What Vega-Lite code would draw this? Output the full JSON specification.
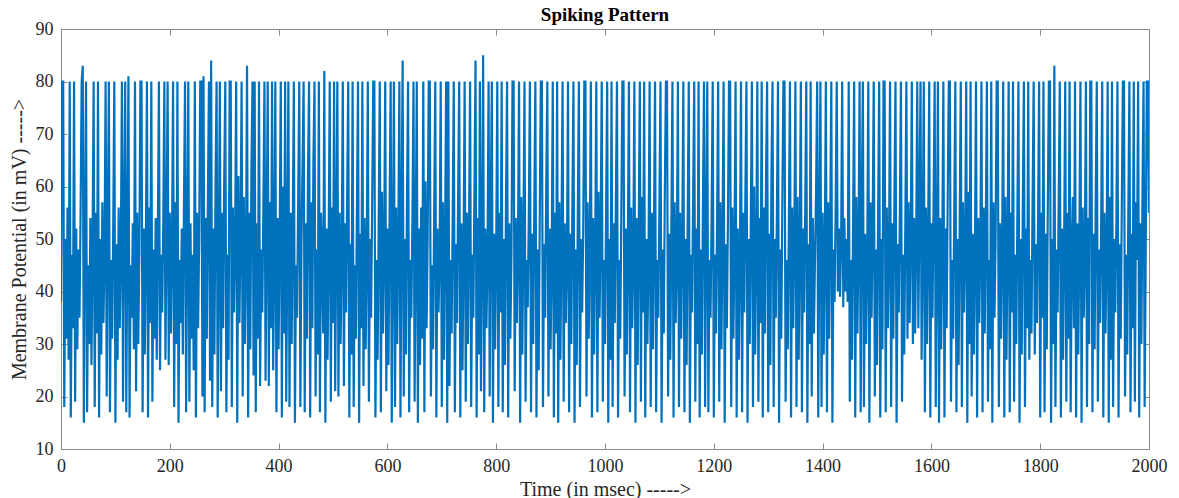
{
"$schema":"https://vega.github.io/schema/vega-lite/v6.json",
"width":1088,"height":420,"autosize":"none",
"padding":{"left":61,"top":29,"right":30,"bottom":49},
"title":{"text":"Spiking Pattern","font":"Liberation Serif","fontSize":19,"fontWeight":"bold","color":"#000000","offset":-5},
"config":{"view":{"stroke":null},"axis":{"domainColor":"#8a8a8a","tickColor":"#8a8a8a","labelColor":"#262626","titleColor":"#262626","labelFont":"Liberation Serif","titleFont":"Liberation Serif","labelFontSize":18,"titleFontSize":20,"titleFontWeight":"normal","grid":false,"tickSize":-6,"domainWidth":1,"tickWidth":1}},
"datasets":{
"frame":[{"t":0,"v":10},{"t":2000,"v":90}],
"trace":[
{"t":0,"v":38},{"t":2,"v":80},{"t":4,"v":80},{"t":6,"v":18},{"t":8,"v":50},{"t":10,"v":31},{"t":12,"v":56},{"t":14,"v":27},{"t":16,"v":80},{"t":18,"v":16},
{"t":20,"v":47},{"t":22,"v":33},{"t":24,"v":80},{"t":26,"v":19},{"t":28,"v":52},{"t":30,"v":29},{"t":32,"v":48},{"t":34,"v":35},{"t":36,"v":55},{"t":38,"v":80},
{"t":40,"v":83},{"t":42,"v":15},{"t":44,"v":51},{"t":46,"v":80},{"t":48,"v":17},{"t":50,"v":45},{"t":52,"v":30},{"t":54,"v":54},{"t":56,"v":26},{"t":58,"v":49},
{"t":60,"v":80},{"t":62,"v":18},{"t":64,"v":55},{"t":66,"v":32},{"t":68,"v":80},{"t":70,"v":16},{"t":72,"v":50},{"t":74,"v":28},{"t":76,"v":57},{"t":78,"v":34},
{"t":80,"v":47},{"t":82,"v":80},{"t":84,"v":20},{"t":86,"v":53},{"t":88,"v":80},{"t":90,"v":17},{"t":92,"v":46},{"t":94,"v":31},{"t":96,"v":52},{"t":98,"v":80},
{"t":100,"v":15},{"t":102,"v":49},{"t":104,"v":27},{"t":106,"v":56},{"t":108,"v":33},{"t":110,"v":48},{"t":112,"v":80},{"t":114,"v":19},{"t":116,"v":54},{"t":118,"v":80},
{"t":120,"v":17},{"t":122,"v":51},{"t":124,"v":81},{"t":126,"v":16},{"t":128,"v":45},{"t":130,"v":35},{"t":132,"v":53},{"t":134,"v":29},{"t":136,"v":80},{"t":138,"v":21},
{"t":140,"v":55},{"t":142,"v":30},{"t":144,"v":47},{"t":146,"v":80},{"t":148,"v":80},{"t":150,"v":17},{"t":152,"v":52},{"t":154,"v":28},{"t":156,"v":49},{"t":158,"v":80},
{"t":160,"v":16},{"t":162,"v":56},{"t":164,"v":34},{"t":166,"v":80},{"t":168,"v":19},{"t":170,"v":48},{"t":172,"v":31},{"t":174,"v":54},{"t":176,"v":27},{"t":178,"v":51},
{"t":180,"v":80},{"t":182,"v":25},{"t":184,"v":47},{"t":186,"v":36},{"t":188,"v":53},{"t":190,"v":80},{"t":192,"v":27},{"t":194,"v":50},{"t":196,"v":80},{"t":198,"v":26},
{"t":200,"v":55},{"t":202,"v":32},{"t":204,"v":48},{"t":206,"v":80},{"t":208,"v":18},{"t":210,"v":57},{"t":212,"v":30},{"t":214,"v":80},{"t":216,"v":15},{"t":218,"v":46},
{"t":220,"v":34},{"t":222,"v":52},{"t":224,"v":28},{"t":226,"v":56},{"t":228,"v":80},{"t":230,"v":17},{"t":232,"v":49},{"t":234,"v":80},{"t":236,"v":19},{"t":238,"v":53},
{"t":240,"v":31},{"t":242,"v":47},{"t":244,"v":25},{"t":246,"v":80},{"t":248,"v":16},{"t":250,"v":55},{"t":252,"v":33},{"t":254,"v":50},{"t":256,"v":80},{"t":258,"v":80},
{"t":260,"v":20},{"t":262,"v":81},{"t":264,"v":17},{"t":266,"v":54},{"t":268,"v":31},{"t":270,"v":58},{"t":272,"v":80},{"t":274,"v":23},{"t":276,"v":84},{"t":278,"v":18},
{"t":280,"v":52},{"t":282,"v":28},{"t":284,"v":60},{"t":286,"v":80},{"t":288,"v":16},{"t":290,"v":45},{"t":292,"v":80},{"t":294,"v":21},{"t":296,"v":55},{"t":298,"v":33},
{"t":300,"v":61},{"t":302,"v":80},{"t":304,"v":17},{"t":306,"v":47},{"t":308,"v":27},{"t":310,"v":80},{"t":312,"v":80},{"t":314,"v":18},{"t":316,"v":56},{"t":318,"v":36},
{"t":320,"v":49},{"t":322,"v":80},{"t":324,"v":15},{"t":326,"v":62},{"t":328,"v":34},{"t":330,"v":51},{"t":332,"v":80},{"t":334,"v":20},{"t":336,"v":58},{"t":338,"v":30},
{"t":340,"v":46},{"t":342,"v":83},{"t":344,"v":16},{"t":346,"v":55},{"t":348,"v":29},{"t":350,"v":63},{"t":352,"v":80},{"t":354,"v":24},{"t":356,"v":80},{"t":358,"v":17},
{"t":360,"v":53},{"t":362,"v":31},{"t":364,"v":80},{"t":366,"v":22},{"t":368,"v":48},{"t":370,"v":36},{"t":372,"v":56},{"t":374,"v":80},{"t":376,"v":23},{"t":378,"v":50},
{"t":380,"v":80},{"t":382,"v":22},{"t":384,"v":57},{"t":386,"v":33},{"t":388,"v":80},{"t":390,"v":25},{"t":392,"v":46},{"t":394,"v":80},{"t":396,"v":17},{"t":398,"v":54},
{"t":400,"v":29},{"t":402,"v":51},{"t":404,"v":80},{"t":406,"v":16},{"t":408,"v":60},{"t":410,"v":32},{"t":412,"v":80},{"t":414,"v":19},{"t":416,"v":47},{"t":418,"v":80},
{"t":420,"v":18},{"t":422,"v":55},{"t":424,"v":30},{"t":426,"v":52},{"t":428,"v":80},{"t":430,"v":15},{"t":432,"v":45},{"t":434,"v":35},{"t":436,"v":58},{"t":438,"v":80},
{"t":440,"v":18},{"t":442,"v":49},{"t":444,"v":64},{"t":446,"v":80},{"t":448,"v":17},{"t":450,"v":53},{"t":452,"v":31},{"t":454,"v":62},{"t":456,"v":80},{"t":458,"v":16},
{"t":460,"v":57},{"t":462,"v":33},{"t":464,"v":65},{"t":466,"v":80},{"t":468,"v":20},{"t":470,"v":48},{"t":472,"v":28},{"t":474,"v":80},{"t":476,"v":17},{"t":478,"v":55},
{"t":480,"v":46},{"t":482,"v":32},{"t":484,"v":82},{"t":486,"v":15},{"t":488,"v":52},{"t":490,"v":27},{"t":492,"v":49},{"t":494,"v":80},{"t":496,"v":19},{"t":498,"v":56},
{"t":500,"v":34},{"t":502,"v":80},{"t":504,"v":21},{"t":506,"v":50},{"t":508,"v":80},{"t":510,"v":20},{"t":512,"v":55},{"t":514,"v":30},{"t":516,"v":47},{"t":518,"v":80},
{"t":520,"v":22},{"t":522,"v":53},{"t":524,"v":36},{"t":526,"v":58},{"t":528,"v":80},{"t":530,"v":16},{"t":532,"v":49},{"t":534,"v":28},{"t":536,"v":80},{"t":538,"v":18},
{"t":540,"v":45},{"t":542,"v":31},{"t":544,"v":56},{"t":546,"v":80},{"t":548,"v":15},{"t":550,"v":51},{"t":552,"v":33},{"t":554,"v":80},{"t":556,"v":22},{"t":558,"v":54},
{"t":560,"v":29},{"t":562,"v":47},{"t":564,"v":80},{"t":566,"v":19},{"t":568,"v":50},{"t":570,"v":35},{"t":572,"v":57},{"t":574,"v":80},{"t":576,"v":80},{"t":578,"v":16},
{"t":580,"v":46},{"t":582,"v":27},{"t":584,"v":53},{"t":586,"v":80},{"t":588,"v":17},{"t":590,"v":59},{"t":592,"v":32},{"t":594,"v":48},{"t":596,"v":80},{"t":598,"v":21},
{"t":600,"v":52},{"t":602,"v":26},{"t":604,"v":55},{"t":606,"v":80},{"t":608,"v":15},{"t":610,"v":47},{"t":612,"v":80},{"t":614,"v":18},{"t":616,"v":56},{"t":618,"v":30},
{"t":620,"v":49},{"t":622,"v":80},{"t":624,"v":16},{"t":626,"v":53},{"t":628,"v":84},{"t":630,"v":20},{"t":632,"v":50},{"t":634,"v":28},{"t":636,"v":57},{"t":638,"v":80},
{"t":640,"v":17},{"t":642,"v":46},{"t":644,"v":35},{"t":646,"v":54},{"t":648,"v":80},{"t":650,"v":19},{"t":652,"v":49},{"t":654,"v":80},{"t":656,"v":15},{"t":658,"v":52},
{"t":660,"v":26},{"t":662,"v":56},{"t":664,"v":31},{"t":666,"v":80},{"t":668,"v":17},{"t":670,"v":61},{"t":672,"v":33},{"t":674,"v":50},{"t":676,"v":80},{"t":678,"v":80},
{"t":680,"v":20},{"t":682,"v":45},{"t":684,"v":29},{"t":686,"v":55},{"t":688,"v":80},{"t":690,"v":16},{"t":692,"v":52},{"t":694,"v":36},{"t":696,"v":47},{"t":698,"v":80},
{"t":700,"v":18},{"t":702,"v":57},{"t":704,"v":27},{"t":706,"v":50},{"t":708,"v":80},{"t":710,"v":15},{"t":712,"v":80},{"t":714,"v":22},{"t":716,"v":46},{"t":718,"v":32},
{"t":720,"v":54},{"t":722,"v":80},{"t":724,"v":17},{"t":726,"v":49},{"t":728,"v":34},{"t":730,"v":58},{"t":732,"v":80},{"t":734,"v":16},{"t":736,"v":53},{"t":738,"v":25},
{"t":740,"v":48},{"t":742,"v":80},{"t":744,"v":19},{"t":746,"v":55},{"t":748,"v":30},{"t":750,"v":51},{"t":752,"v":80},{"t":754,"v":18},{"t":756,"v":47},{"t":758,"v":35},
{"t":760,"v":59},{"t":762,"v":84},{"t":764,"v":16},{"t":766,"v":54},{"t":768,"v":28},{"t":770,"v":80},{"t":772,"v":21},{"t":774,"v":49},{"t":776,"v":85},{"t":778,"v":17},
{"t":780,"v":52},{"t":782,"v":33},{"t":784,"v":46},{"t":786,"v":80},{"t":788,"v":20},{"t":790,"v":56},{"t":792,"v":80},{"t":794,"v":15},{"t":796,"v":51},{"t":798,"v":29},
{"t":800,"v":48},{"t":802,"v":80},{"t":804,"v":18},{"t":806,"v":55},{"t":808,"v":36},{"t":810,"v":80},{"t":812,"v":17},{"t":814,"v":50},{"t":816,"v":26},{"t":818,"v":57},
{"t":820,"v":80},{"t":822,"v":16},{"t":824,"v":53},{"t":826,"v":31},{"t":828,"v":47},{"t":830,"v":80},{"t":832,"v":80},{"t":834,"v":21},{"t":836,"v":54},{"t":838,"v":34},
{"t":840,"v":49},{"t":842,"v":80},{"t":844,"v":15},{"t":846,"v":58},{"t":848,"v":28},{"t":850,"v":50},{"t":852,"v":80},{"t":854,"v":19},{"t":856,"v":46},{"t":858,"v":37},
{"t":860,"v":55},{"t":862,"v":80},{"t":864,"v":17},{"t":866,"v":51},{"t":868,"v":30},{"t":870,"v":56},{"t":872,"v":80},{"t":874,"v":16},{"t":876,"v":48},{"t":878,"v":25},
{"t":880,"v":53},{"t":882,"v":80},{"t":884,"v":80},{"t":886,"v":18},{"t":888,"v":49},{"t":890,"v":35},{"t":892,"v":60},{"t":894,"v":80},{"t":896,"v":20},{"t":898,"v":52},
{"t":900,"v":29},{"t":902,"v":47},{"t":904,"v":80},{"t":906,"v":16},{"t":908,"v":55},{"t":910,"v":32},{"t":912,"v":80},{"t":914,"v":15},{"t":916,"v":57},{"t":918,"v":27},
{"t":920,"v":50},{"t":922,"v":80},{"t":924,"v":19},{"t":926,"v":53},{"t":928,"v":34},{"t":930,"v":46},{"t":932,"v":80},{"t":934,"v":17},{"t":936,"v":51},{"t":938,"v":30},
{"t":940,"v":56},{"t":942,"v":80},{"t":944,"v":15},{"t":946,"v":48},{"t":948,"v":26},{"t":950,"v":55},{"t":952,"v":80},{"t":954,"v":18},{"t":956,"v":50},{"t":958,"v":36},
{"t":960,"v":52},{"t":962,"v":80},{"t":964,"v":80},{"t":966,"v":20},{"t":968,"v":57},{"t":970,"v":31},{"t":972,"v":47},{"t":974,"v":80},{"t":976,"v":16},{"t":978,"v":54},
{"t":980,"v":28},{"t":982,"v":49},{"t":984,"v":80},{"t":986,"v":17},{"t":988,"v":59},{"t":990,"v":35},{"t":992,"v":52},{"t":994,"v":80},{"t":996,"v":19},{"t":998,"v":46},
{"t":1000,"v":30},{"t":1002,"v":55},{"t":1004,"v":80},{"t":1006,"v":15},{"t":1008,"v":50},{"t":1010,"v":27},{"t":1012,"v":80},{"t":1014,"v":18},{"t":1016,"v":53},{"t":1018,"v":34},
{"t":1020,"v":57},{"t":1022,"v":80},{"t":1024,"v":16},{"t":1026,"v":46},{"t":1028,"v":31},{"t":1030,"v":55},{"t":1032,"v":80},{"t":1034,"v":80},{"t":1036,"v":20},{"t":1038,"v":52},
{"t":1040,"v":28},{"t":1042,"v":49},{"t":1044,"v":80},{"t":1046,"v":17},{"t":1048,"v":56},{"t":1050,"v":33},{"t":1052,"v":47},{"t":1054,"v":80},{"t":1056,"v":15},{"t":1058,"v":54},
{"t":1060,"v":26},{"t":1062,"v":51},{"t":1064,"v":80},{"t":1066,"v":19},{"t":1068,"v":58},{"t":1070,"v":36},{"t":1072,"v":80},{"t":1074,"v":16},{"t":1076,"v":50},{"t":1078,"v":30},
{"t":1080,"v":47},{"t":1082,"v":80},{"t":1084,"v":18},{"t":1086,"v":55},{"t":1088,"v":29},{"t":1090,"v":52},{"t":1092,"v":80},{"t":1094,"v":17},{"t":1096,"v":46},{"t":1098,"v":35},
{"t":1100,"v":56},{"t":1102,"v":80},{"t":1104,"v":15},{"t":1106,"v":48},{"t":1108,"v":32},{"t":1110,"v":59},{"t":1112,"v":80},{"t":1114,"v":80},{"t":1116,"v":20},{"t":1118,"v":51},
{"t":1120,"v":27},{"t":1122,"v":53},{"t":1124,"v":80},{"t":1126,"v":16},{"t":1128,"v":57},{"t":1130,"v":34},{"t":1132,"v":46},{"t":1134,"v":80},{"t":1136,"v":18},{"t":1138,"v":55},
{"t":1140,"v":31},{"t":1142,"v":49},{"t":1144,"v":80},{"t":1146,"v":17},{"t":1148,"v":50},{"t":1150,"v":26},{"t":1152,"v":54},{"t":1154,"v":80},{"t":1156,"v":15},{"t":1158,"v":47},
{"t":1160,"v":36},{"t":1162,"v":58},{"t":1164,"v":80},{"t":1166,"v":19},{"t":1168,"v":52},{"t":1170,"v":30},{"t":1172,"v":80},{"t":1174,"v":16},{"t":1176,"v":48},{"t":1178,"v":28},
{"t":1180,"v":56},{"t":1182,"v":80},{"t":1184,"v":18},{"t":1186,"v":51},{"t":1188,"v":80},{"t":1190,"v":17},{"t":1192,"v":46},{"t":1194,"v":35},{"t":1196,"v":55},{"t":1198,"v":80},
{"t":1200,"v":16},{"t":1202,"v":47},{"t":1204,"v":32},{"t":1206,"v":53},{"t":1208,"v":80},{"t":1210,"v":19},{"t":1212,"v":57},{"t":1214,"v":29},{"t":1216,"v":50},{"t":1218,"v":80},
{"t":1220,"v":15},{"t":1222,"v":49},{"t":1224,"v":33},{"t":1226,"v":54},{"t":1228,"v":80},{"t":1230,"v":80},{"t":1232,"v":18},{"t":1234,"v":56},{"t":1236,"v":31},{"t":1238,"v":48},
{"t":1240,"v":80},{"t":1242,"v":16},{"t":1244,"v":52},{"t":1246,"v":27},{"t":1248,"v":46},{"t":1250,"v":80},{"t":1252,"v":17},{"t":1254,"v":55},{"t":1256,"v":36},{"t":1258,"v":58},
{"t":1260,"v":80},{"t":1262,"v":15},{"t":1264,"v":50},{"t":1266,"v":30},{"t":1268,"v":53},{"t":1270,"v":80},{"t":1272,"v":18},{"t":1274,"v":60},{"t":1276,"v":28},{"t":1278,"v":47},
{"t":1280,"v":80},{"t":1282,"v":19},{"t":1284,"v":54},{"t":1286,"v":34},{"t":1288,"v":80},{"t":1290,"v":16},{"t":1292,"v":56},{"t":1294,"v":32},{"t":1296,"v":62},{"t":1298,"v":80},
{"t":1300,"v":17},{"t":1302,"v":51},{"t":1304,"v":26},{"t":1306,"v":63},{"t":1308,"v":80},{"t":1310,"v":18},{"t":1312,"v":50},{"t":1314,"v":35},{"t":1316,"v":55},{"t":1318,"v":80},
{"t":1320,"v":15},{"t":1322,"v":48},{"t":1324,"v":31},{"t":1326,"v":57},{"t":1328,"v":80},{"t":1330,"v":80},{"t":1332,"v":19},{"t":1334,"v":46},{"t":1336,"v":29},{"t":1338,"v":53},
{"t":1340,"v":80},{"t":1342,"v":16},{"t":1344,"v":56},{"t":1346,"v":33},{"t":1348,"v":50},{"t":1350,"v":80},{"t":1352,"v":18},{"t":1354,"v":58},{"t":1356,"v":27},{"t":1358,"v":48},
{"t":1360,"v":80},{"t":1362,"v":17},{"t":1364,"v":52},{"t":1366,"v":36},{"t":1368,"v":55},{"t":1370,"v":80},{"t":1372,"v":15},{"t":1374,"v":49},{"t":1376,"v":30},{"t":1378,"v":80},
{"t":1380,"v":20},{"t":1382,"v":54},{"t":1384,"v":32},{"t":1386,"v":46},{"t":1388,"v":59},{"t":1390,"v":80},{"t":1392,"v":16},{"t":1394,"v":51},{"t":1396,"v":80},{"t":1398,"v":18},
{"t":1400,"v":55},{"t":1402,"v":28},{"t":1404,"v":47},{"t":1406,"v":80},{"t":1408,"v":17},{"t":1410,"v":57},{"t":1412,"v":31},{"t":1414,"v":53},{"t":1416,"v":80},{"t":1418,"v":15},
{"t":1420,"v":48},{"t":1422,"v":38},{"t":1424,"v":56},{"t":1426,"v":80},{"t":1428,"v":40},{"t":1430,"v":52},{"t":1432,"v":39},{"t":1434,"v":49},{"t":1436,"v":80},{"t":1438,"v":37},
{"t":1440,"v":54},{"t":1442,"v":40},{"t":1444,"v":50},{"t":1446,"v":38},{"t":1448,"v":80},{"t":1450,"v":19},{"t":1452,"v":46},{"t":1454,"v":27},{"t":1456,"v":53},{"t":1458,"v":80},
{"t":1460,"v":16},{"t":1462,"v":58},{"t":1464,"v":32},{"t":1466,"v":49},{"t":1468,"v":80},{"t":1470,"v":17},{"t":1472,"v":55},{"t":1474,"v":80},{"t":1476,"v":18},{"t":1478,"v":51},
{"t":1480,"v":30},{"t":1482,"v":46},{"t":1484,"v":80},{"t":1486,"v":15},{"t":1488,"v":57},{"t":1490,"v":35},{"t":1492,"v":52},{"t":1494,"v":80},{"t":1496,"v":20},{"t":1498,"v":48},
{"t":1500,"v":26},{"t":1502,"v":54},{"t":1504,"v":80},{"t":1506,"v":16},{"t":1508,"v":50},{"t":1510,"v":29},{"t":1512,"v":80},{"t":1514,"v":80},{"t":1516,"v":17},{"t":1518,"v":56},
{"t":1520,"v":33},{"t":1522,"v":47},{"t":1524,"v":80},{"t":1526,"v":18},{"t":1528,"v":53},{"t":1530,"v":31},{"t":1532,"v":58},{"t":1534,"v":80},{"t":1536,"v":15},{"t":1538,"v":49},
{"t":1540,"v":36},{"t":1542,"v":55},{"t":1544,"v":80},{"t":1546,"v":19},{"t":1548,"v":47},{"t":1550,"v":28},{"t":1552,"v":52},{"t":1554,"v":80},{"t":1556,"v":31},{"t":1558,"v":57},
{"t":1560,"v":34},{"t":1562,"v":50},{"t":1564,"v":80},{"t":1566,"v":30},{"t":1568,"v":54},{"t":1570,"v":32},{"t":1572,"v":49},{"t":1574,"v":80},{"t":1576,"v":33},{"t":1578,"v":55},
{"t":1580,"v":80},{"t":1582,"v":27},{"t":1584,"v":48},{"t":1586,"v":80},{"t":1588,"v":17},{"t":1590,"v":56},{"t":1592,"v":30},{"t":1594,"v":50},{"t":1596,"v":80},{"t":1598,"v":16},
{"t":1600,"v":53},{"t":1602,"v":35},{"t":1604,"v":57},{"t":1606,"v":80},{"t":1608,"v":18},{"t":1610,"v":47},{"t":1612,"v":80},{"t":1614,"v":15},{"t":1616,"v":54},{"t":1618,"v":29},
{"t":1620,"v":49},{"t":1622,"v":80},{"t":1624,"v":16},{"t":1626,"v":52},{"t":1628,"v":33},{"t":1630,"v":58},{"t":1632,"v":80},{"t":1634,"v":80},{"t":1636,"v":19},{"t":1638,"v":46},
{"t":1640,"v":31},{"t":1642,"v":55},{"t":1644,"v":80},{"t":1646,"v":17},{"t":1648,"v":50},{"t":1650,"v":26},{"t":1652,"v":53},{"t":1654,"v":80},{"t":1656,"v":18},{"t":1658,"v":57},
{"t":1660,"v":36},{"t":1662,"v":48},{"t":1664,"v":80},{"t":1666,"v":15},{"t":1668,"v":59},{"t":1670,"v":30},{"t":1672,"v":80},{"t":1674,"v":20},{"t":1676,"v":51},{"t":1678,"v":28},
{"t":1680,"v":47},{"t":1682,"v":80},{"t":1684,"v":16},{"t":1686,"v":54},{"t":1688,"v":34},{"t":1690,"v":49},{"t":1692,"v":80},{"t":1694,"v":17},{"t":1696,"v":56},{"t":1698,"v":32},
{"t":1700,"v":52},{"t":1702,"v":80},{"t":1704,"v":19},{"t":1706,"v":46},{"t":1708,"v":29},{"t":1710,"v":80},{"t":1712,"v":15},{"t":1714,"v":57},{"t":1716,"v":35},{"t":1718,"v":50},
{"t":1720,"v":80},{"t":1722,"v":80},{"t":1724,"v":18},{"t":1726,"v":53},{"t":1728,"v":31},{"t":1730,"v":48},{"t":1732,"v":80},{"t":1734,"v":16},{"t":1736,"v":58},{"t":1738,"v":27},
{"t":1740,"v":49},{"t":1742,"v":80},{"t":1744,"v":17},{"t":1746,"v":55},{"t":1748,"v":36},{"t":1750,"v":80},{"t":1752,"v":19},{"t":1754,"v":47},{"t":1756,"v":30},{"t":1758,"v":54},
{"t":1760,"v":80},{"t":1762,"v":15},{"t":1764,"v":50},{"t":1766,"v":28},{"t":1768,"v":56},{"t":1770,"v":80},{"t":1772,"v":18},{"t":1774,"v":52},{"t":1776,"v":33},{"t":1778,"v":80},
{"t":1780,"v":27},{"t":1782,"v":46},{"t":1784,"v":32},{"t":1786,"v":57},{"t":1788,"v":80},{"t":1790,"v":28},{"t":1792,"v":49},{"t":1794,"v":34},{"t":1796,"v":53},{"t":1798,"v":80},
{"t":1800,"v":16},{"t":1802,"v":55},{"t":1804,"v":35},{"t":1806,"v":80},{"t":1808,"v":17},{"t":1810,"v":51},{"t":1812,"v":29},{"t":1814,"v":56},{"t":1816,"v":80},{"t":1818,"v":80},
{"t":1820,"v":15},{"t":1822,"v":50},{"t":1824,"v":30},{"t":1826,"v":83},{"t":1828,"v":18},{"t":1830,"v":48},{"t":1832,"v":36},{"t":1834,"v":57},{"t":1836,"v":80},{"t":1838,"v":16},
{"t":1840,"v":52},{"t":1842,"v":27},{"t":1844,"v":49},{"t":1846,"v":80},{"t":1848,"v":19},{"t":1850,"v":55},{"t":1852,"v":31},{"t":1854,"v":80},{"t":1856,"v":17},{"t":1858,"v":47},
{"t":1860,"v":58},{"t":1862,"v":33},{"t":1864,"v":80},{"t":1866,"v":16},{"t":1868,"v":53},{"t":1870,"v":28},{"t":1872,"v":50},{"t":1874,"v":80},{"t":1876,"v":15},{"t":1878,"v":56},
{"t":1880,"v":35},{"t":1882,"v":46},{"t":1884,"v":80},{"t":1886,"v":18},{"t":1888,"v":54},{"t":1890,"v":30},{"t":1892,"v":80},{"t":1894,"v":80},{"t":1896,"v":17},{"t":1898,"v":51},
{"t":1900,"v":29},{"t":1902,"v":57},{"t":1904,"v":80},{"t":1906,"v":19},{"t":1908,"v":48},{"t":1910,"v":34},{"t":1912,"v":52},{"t":1914,"v":80},{"t":1916,"v":16},{"t":1918,"v":55},
{"t":1920,"v":32},{"t":1922,"v":47},{"t":1924,"v":80},{"t":1926,"v":15},{"t":1928,"v":58},{"t":1930,"v":27},{"t":1932,"v":80},{"t":1934,"v":18},{"t":1936,"v":50},{"t":1938,"v":36},
{"t":1940,"v":53},{"t":1942,"v":80},{"t":1944,"v":16},{"t":1946,"v":49},{"t":1948,"v":31},{"t":1950,"v":56},{"t":1952,"v":80},{"t":1954,"v":80},{"t":1956,"v":20},{"t":1958,"v":47},
{"t":1960,"v":28},{"t":1962,"v":55},{"t":1964,"v":80},{"t":1966,"v":17},{"t":1968,"v":51},{"t":1970,"v":33},{"t":1972,"v":80},{"t":1974,"v":19},{"t":1976,"v":57},{"t":1978,"v":46},
{"t":1980,"v":80},{"t":1982,"v":16},{"t":1984,"v":53},{"t":1986,"v":30},{"t":1988,"v":59},{"t":1990,"v":80},{"t":1992,"v":18},{"t":1994,"v":48},{"t":1996,"v":80},{"t":1998,"v":80},
{"t":2000,"v":55}
]},
"layer":[
{"data":{"name":"trace"},
 "mark":{"type":"line","color":"#0072BD","strokeWidth":2.2,"clip":true},
 "encoding":{
  "x":{"field":"t","type":"quantitative","scale":{"domain":[0,2000],"nice":false,"zero":false},"axis":{"orient":"bottom","values":[0,200,400,600,800,1000,1200,1400,1600,1800,2000],"format":"d","title":"Time (in msec) ----->","labelPadding":14,"titlePadding":4,"labelFlush":false}},
  "y":{"field":"v","type":"quantitative","scale":{"domain":[10,90],"nice":false,"zero":false},"axis":{"orient":"left","values":[10,20,30,40,50,60,70,80,90],"title":"Membrane Potential (in mV) ----->","labelPadding":14,"titlePadding":6,"labelFlush":false}}
 }},
{"data":{"name":"frame"},
 "mark":{"type":"point","opacity":0},
 "encoding":{
  "x":{"field":"t","type":"quantitative","axis":{"orient":"top","values":[0,200,400,600,800,1000,1200,1400,1600,1800,2000],"labels":false,"title":null}},
  "y":{"field":"v","type":"quantitative","axis":{"orient":"right","values":[10,20,30,40,50,60,70,80,90],"labels":false,"title":null}}
 }}
],
"resolve":{"axis":{"x":"independent","y":"independent"}}
}
